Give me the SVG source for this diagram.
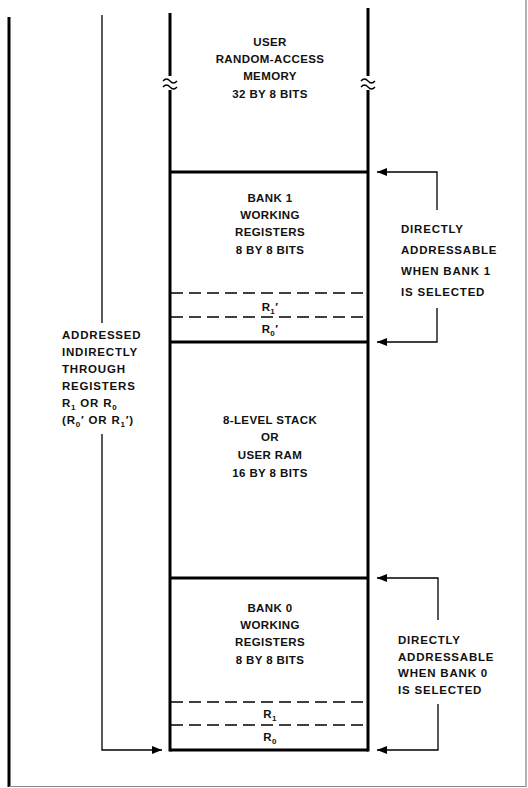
<svg xmlns="http://www.w3.org/2000/svg" width="528" height="788" viewBox="0 0 528 788">
<defs>
<marker id="ah" viewBox="0 0 10 8" refX="10" refY="4" markerWidth="10" markerHeight="8" markerUnits="userSpaceOnUse" orient="auto">
<path d="M0,0 L10,4 L0,8 Z" fill="#000"/>
</marker>
<style>
text{font-family:"Liberation Sans",Arial,sans-serif;font-weight:bold;font-size:11.5px;fill:#111;letter-spacing:0.4px}
.c{text-anchor:middle}
.wall{stroke:#000;stroke-width:3;fill:none}
.div{stroke:#000;stroke-width:3;fill:none}
.dash{stroke:#000;stroke-width:1.5;stroke-dasharray:12,6;fill:none}
.conn{stroke:#000;stroke-width:1.3;fill:none}
.sub{font-size:8px}
.side{letter-spacing:0.8px}
</style>
</defs>
<rect width="528" height="788" fill="#fff"/>
<g id="frame">
<line x1="9" y1="17" x2="9" y2="787" stroke="#000" stroke-width="3"/>
<line x1="526" y1="0" x2="526" y2="787" stroke="#666" stroke-width="1"/>
<line x1="9" y1="786.5" x2="526" y2="786.5" stroke="#888" stroke-width="1"/>
</g>
<g id="column">
<line class="wall" x1="170" y1="13" x2="170" y2="751.5"/>
<line class="wall" x1="368" y1="8" x2="368" y2="751.5"/>
<rect x="164" y="76" width="12" height="14" fill="#fff"/>
<rect x="362" y="76" width="12" height="14" fill="#fff"/>
<path class="conn" stroke-width="1.8" d="M163,81 q3.5,-4 7,0 t7,0 M163,87 q3.5,-4 7,0 t7,0"/>
<path class="conn" stroke-width="1.8" d="M361,81 q3.5,-4 7,0 t7,0 M361,87 q3.5,-4 7,0 t7,0"/>
</g>
<g id="user-ram">
<text class="c" x="270" y="46">USER</text>
<text class="c" x="270" y="63">RANDOM-ACCESS</text>
<text class="c" x="270" y="80">MEMORY</text>
<text class="c" x="270" y="98">32 BY 8 BITS</text>
</g>
<g id="bank1">
<line class="div" x1="170" y1="172" x2="368" y2="172"/>
<text class="c" x="270" y="202">BANK 1</text>
<text class="c" x="270" y="219">WORKING</text>
<text class="c" x="270" y="236">REGISTERS</text>
<text class="c" x="270" y="254">8 BY 8 BITS</text>
<line class="dash" x1="171" y1="293" x2="367" y2="293"/>
<text class="c" x="270" y="311">R<tspan class="sub" dy="3">1</tspan><tspan dy="-3">′</tspan></text>
<line class="dash" x1="171" y1="317" x2="367" y2="317"/>
<text class="c" x="270" y="333">R<tspan class="sub" dy="3">0</tspan><tspan dy="-3">′</tspan></text>
</g>
<g id="stack">
<line class="div" x1="170" y1="342" x2="368" y2="342"/>
<text class="c" x="270" y="424">8-LEVEL STACK</text>
<text class="c" x="270" y="441">OR</text>
<text class="c" x="270" y="459">USER RAM</text>
<text class="c" x="270" y="477">16 BY 8 BITS</text>
</g>
<g id="bank0">
<line class="div" x1="170" y1="578" x2="368" y2="578"/>
<text class="c" x="270" y="612">BANK 0</text>
<text class="c" x="270" y="629">WORKING</text>
<text class="c" x="270" y="646">REGISTERS</text>
<text class="c" x="270" y="664">8 BY 8 BITS</text>
<line class="dash" x1="171" y1="702" x2="367" y2="702"/>
<text class="c" x="270" y="718">R<tspan class="sub" dy="3">1</tspan></text>
<line class="dash" x1="171" y1="725" x2="367" y2="725"/>
<text class="c" x="270" y="741">R<tspan class="sub" dy="3">0</tspan></text>
<line class="div" x1="170" y1="750" x2="368" y2="750"/>
</g>
<g id="label-bank1">
<text class="side" x="401" y="233">DIRECTLY</text>
<text class="side" x="401" y="254">ADDRESSABLE</text>
<text class="side" x="401" y="275">WHEN BANK 1</text>
<text class="side" x="401" y="296">IS SELECTED</text>
</g>
<g id="label-bank0">
<text class="side" x="398" y="644">DIRECTLY</text>
<text class="side" x="398" y="661">ADDRESSABLE</text>
<text class="side" x="398" y="677">WHEN BANK 0</text>
<text class="side" x="398" y="694">IS SELECTED</text>
</g>
<g id="label-indirect">
<text class="side" x="62" y="339">ADDRESSED</text>
<text class="side" x="62" y="356">INDIRECTLY</text>
<text class="side" x="62" y="373">THROUGH</text>
<text class="side" x="62" y="390">REGISTERS</text>
<text class="side" x="62" y="407">R<tspan class="sub" dy="3">1</tspan><tspan dy="-3"> OR R</tspan><tspan class="sub" dy="3">0</tspan></text>
<text class="side" x="62" y="424">(R<tspan class="sub" dy="3">0</tspan><tspan dy="-3">′ OR R</tspan><tspan class="sub" dy="3">1</tspan><tspan dy="-3">′)</tspan></text>
</g>
<g id="connectors">
<path class="conn" d="M437,210 V172 H377" marker-end="url(#ah)"/>
<path class="conn" d="M437,308 V342 H377" marker-end="url(#ah)"/>
<path class="conn" d="M438,620 V578 H377" marker-end="url(#ah)"/>
<path class="conn" d="M438,704 V750 H377" marker-end="url(#ah)"/>
<path class="conn" d="M102,15 V323"/>
<path class="conn" d="M102,434 V750 H162" marker-end="url(#ah)"/>
</g>
</svg>
